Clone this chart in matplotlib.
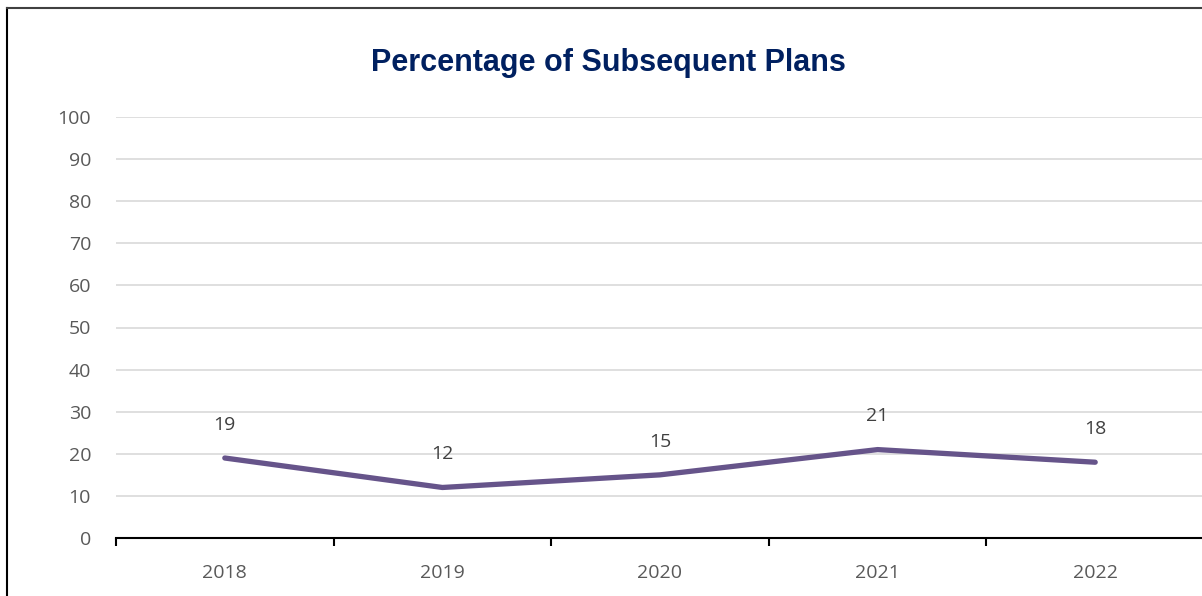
import matplotlib.pyplot as plt
from matplotlib.lines import Line2D

years = ['2018', '2019', '2020', '2021', '2022']
percent = [19, 12, 15, 21, 18]
y_ticks = list(range(0, 101, 10))

plt.rcParams['font.family'] = ['Open Sans', 'DejaVu Sans']

fig = plt.figure(figsize=(12.02, 5.96), dpi=100)
ax = fig.add_axes([116 / 1202, 58 / 596, 1088 / 1202, 421 / 596])

x = list(range(len(years)))
ax.plot(x, percent, color='#66548a', linewidth=3.8, solid_capstyle='round', zorder=3)

for xi, v in zip(x, percent):
    ax.annotate(str(v), (xi, v), xytext=(0, 24), textcoords='offset points',
                ha='center', va='center', fontsize=14, color='#404040')

ax.set_xlim(-0.5, len(years) - 0.5)
ax.set_ylim(0, 100)
ax.set_yticks(y_ticks)
ax.set_yticklabels([str(t) for t in y_ticks])
ax.tick_params(axis='y', length=0, pad=18, labelsize=14, labelcolor='#595959')

# category labels centred, tick marks on the boundaries
ax.set_xticks(x)
ax.set_xticklabels(years)
ax.tick_params(axis='x', which='major', length=0, pad=19, labelsize=14, labelcolor='#595959')
ax.set_xticks([i - 0.5 for i in range(len(years) + 1)], minor=True)
ax.tick_params(axis='x', which='minor', length=6, width=1.5, color='black', direction='out')

ax.grid(axis='y', color='#d9d9d9', linewidth=1.2)
ax.set_axisbelow(True)
for side in ['top', 'right', 'left']:
    ax.spines[side].set_visible(False)
ax.spines['bottom'].set_color('black')
ax.spines['bottom'].set_linewidth(1.5)

fig.text(608 / 1202, 1 - 63 / 596, 'Percentage of Subsequent Plans',
         ha='center', va='center', fontsize=22, fontweight='bold',
         color='#002060', family=['Liberation Sans', 'DejaVu Sans'])

# outer frame (left and top edges)
fig.add_artist(Line2D([7 / 1202, 7 / 1202], [0, 1 - 8 / 596], color='black', linewidth=1.5,
                      transform=fig.transFigure))
fig.add_artist(Line2D([7 / 1202, 1], [1 - 8 / 596, 1 - 8 / 596], color='#404040', linewidth=1.5,
                      transform=fig.transFigure))

fig.savefig('out.png', dpi=100)
